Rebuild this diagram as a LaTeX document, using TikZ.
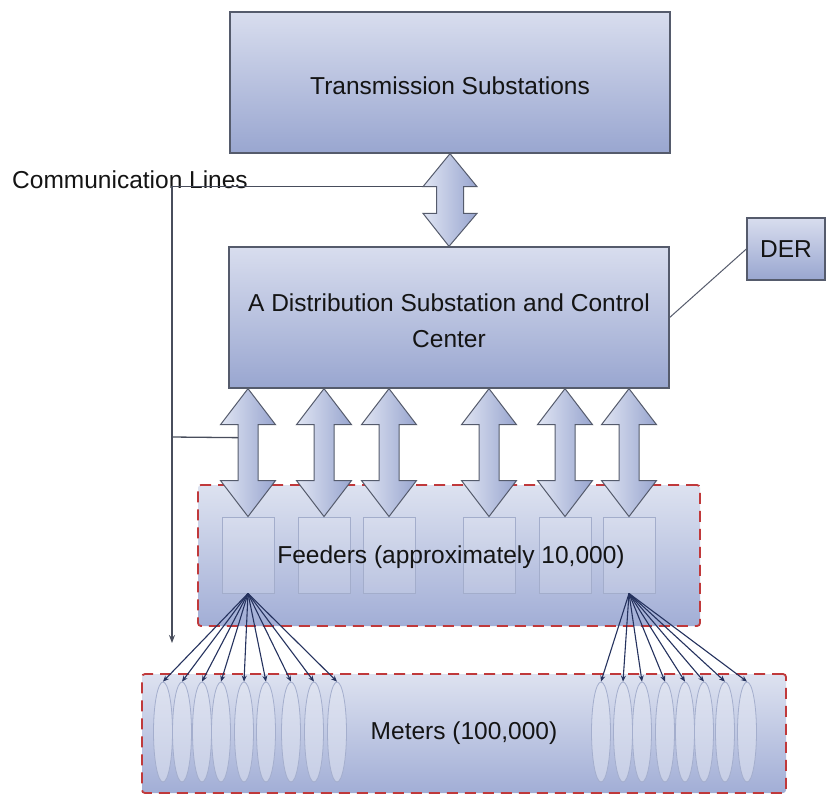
\documentclass[tikz,border=0pt]{standalone}
\usepackage{fontspec}
\setmainfont{Liberation Sans}
\usetikzlibrary{calc,shapes.geometric,arrows.meta}
\definecolor{boxline}{HTML}{555B6C}
\definecolor{boxtop}{HTML}{D8DDEE}
\definecolor{boxbot}{HTML}{99A6D0}
\definecolor{grptop}{HTML}{DDE2F0}
\definecolor{grpbot}{HTML}{A2AED6}
\definecolor{dashred}{HTML}{C0393B}
\definecolor{arrL}{HTML}{E0E5F3}
\definecolor{arrR}{HTML}{98A5CF}
\definecolor{fanblue}{HTML}{25325E}
\definecolor{rectline}{HTML}{A3ADCB}
\definecolor{ellline}{HTML}{A4AECD}
\definecolor{ellfill}{HTML}{E2E6F2}
\definecolor{txt}{HTML}{141414}
\newcommand\dblarr[5]{%
  \path[arrowshape] let \p1=#1, \p2=#2 in
    (\x1,\y1) -- (\x1-#4,\y1-#5) -- (\x1-#3,\y1-#5) -- (\x1-#3,\y2+#5)
    -- (\x1-#4,\y2+#5) -- (\x2,\y2) -- (\x1+#4,\y2+#5) -- (\x1+#3,\y2+#5)
    -- (\x1+#3,\y1-#5) -- (\x1+#4,\y1-#5) -- cycle;}
\begin{document}
\begin{tikzpicture}[x=1pt,y=-1pt,
  every node/.style={text=txt,font=\fontsize{24.5}{36}\selectfont},
  bigbox/.style={draw=boxline,line width=1.3pt,top color=boxtop,bottom color=boxbot,inner sep=0pt},
  grpbox/.style={draw=dashred,line width=1.8pt,dash pattern=on 11pt off 7pt,top color=grptop,bottom color=grpbot,inner sep=0pt,rounded corners=3pt},
  feedrect/.style={draw=rectline,line width=0.9pt,fill=white,fill opacity=0.15,minimum width=52pt,minimum height=76pt,inner sep=0pt},
  meter/.style={ellipse,draw=ellline,line width=0.8pt,fill=ellfill,fill opacity=0.55,minimum width=19pt,minimum height=100pt,inner sep=0pt},
  arrowshape/.style={draw=boxline,line width=1pt,left color=arrL,right color=arrR},
  fan/.style={draw=fanblue,line width=1.1pt,-{Stealth[length=6pt,width=5pt]}},
  commline/.style={draw=boxline!85!black,line width=1.3pt},
]
\useasboundingbox (0,0) rectangle (830,796);
\fill[white] (0,0) rectangle (830,796);

% main boxes
\node[bigbox,minimum width=440pt,minimum height=141pt] (trans) at (450,82.5) {\raisebox{-3pt}[\height][\depth]{Transmission Substations}};
\node[bigbox,minimum width=440pt,minimum height=141pt] (dist) at (449,317.5) {\raisebox{-5pt}[\height][\depth]{\begin{tabular}{@{}c@{}}A Distribution Substation and Control\\[0pt]Center\end{tabular}}};
\node[bigbox,minimum width=78pt,minimum height=62pt] (der) at (786,249) {DER};
\draw[draw=boxline,line width=1pt] (dist.east) -- (der.west);

% feeders group
\node[grpbox,minimum width=502pt,minimum height=141pt] (feeders) at (449,555.5) {};
\foreach \x [count=\i] in {248,324,389,489,565,629}
  {\node[feedrect] (f\i) at (\x,555) {};}
\node (feedlabel) at (451,557) {Feeders (approximately 10,000)};

% double arrows
\dblarr{(trans.south)}{(dist.north)}{13.5pt}{27pt}{33pt}
\foreach \i in {1,...,6}
  {\dblarr{(f\i.north |- dist.south)}{(f\i.north)}{10pt}{27.5pt}{36pt}}

% communication lines
\node[anchor=base west,inner sep=0pt] (comm) at (12,188) {Communication Lines};
\coordinate (tal) at ($(trans.south)+(-27pt,-33pt)$);
\coordinate (cdown) at (172,643);
\coordinate (a1l) at ($(f1.north |- dist.south)+(-10pt,-49pt)$);
\coordinate (cbr) at (172,437);
\draw[commline,-{Stealth[length=8pt,width=6pt]}] (tal) -| (cdown);
\draw[commline] (cbr) -- (a1l);

% meters group
\node[grpbox,minimum width=644pt,minimum height=119pt] (meters) at (464,733.5) {Meters (100,000)};
\foreach \x [count=\i] in {163,182,202,221,244,266,291,314,337}
  {\node[meter] (mL\i) at (\x,732) {};}
\foreach \x [count=\i] in {601,623,642,665,685,704,725,747}
  {\node[meter] (mR\i) at (\x,732) {};}

% fans
\foreach \i in {1,...,9}
  {\draw[fan] (f1.south) -- (mL\i.north);}
\foreach \i in {1,...,8}
  {\draw[fan] (f6.south) -- (mR\i.north);}
\end{tikzpicture}
\end{document}
